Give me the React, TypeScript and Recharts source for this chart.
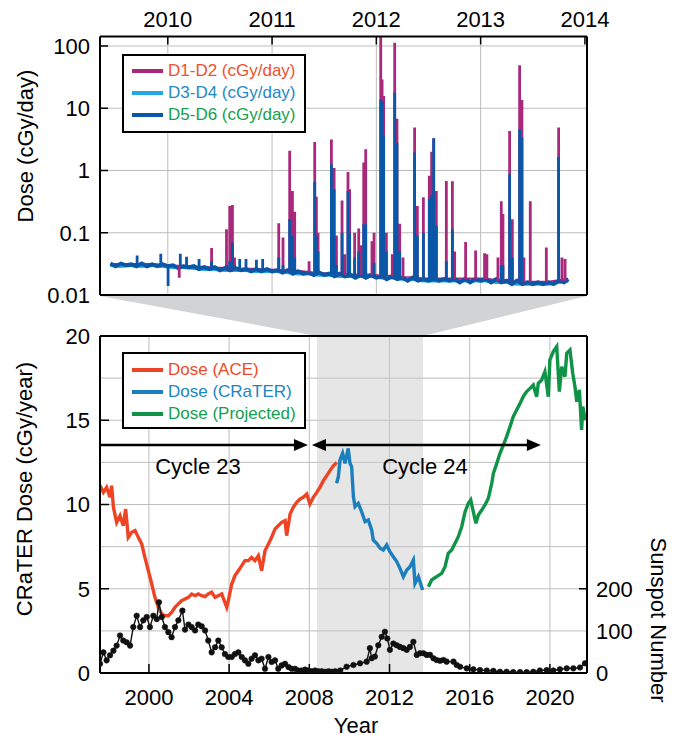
import React from 'react';
import {
  LineChart, Line, XAxis, YAxis, CartesianGrid, ReferenceArea, ReferenceLine, ReferenceDot, Legend,
} from 'recharts';

const FONT = '"Liberation Sans", Arial, Helvetica, sans-serif';

// ---------------- Top panel: CRaTER daily dose (log) ----------------
const topYearTicks = [2010, 2011, 2012, 2013, 2014];
const topGridYears = [2010, 2011, 2012, 2013];
const topDoseTicks = [0.01, 0.1, 1, 10, 100];
const topDoseGrid = [0.1, 1, 10, 100];
const topXDomain = [2009.35, 2014.02];
const topYDomain = [0.01, 142];

const baseYearsFine = [
  2009.45, 2009.5, 2009.55, 2009.6, 2009.65, 2009.7, 2009.75, 2009.8, 2009.85, 2009.9, 2009.95,
  2010, 2010.05, 2010.1, 2010.15, 2010.2, 2010.25, 2010.3, 2010.35, 2010.4, 2010.45, 2010.5, 2010.55, 2010.6, 2010.65, 2010.7, 2010.75, 2010.8, 2010.85, 2010.9, 2010.95,
  2011, 2011.05, 2011.1, 2011.15, 2011.2, 2011.25, 2011.3, 2011.35, 2011.4, 2011.45, 2011.5, 2011.55, 2011.6, 2011.65, 2011.7, 2011.75, 2011.8, 2011.85, 2011.9, 2011.95,
  2012, 2012.05, 2012.1, 2012.15, 2012.2, 2012.25, 2012.3, 2012.35, 2012.4, 2012.45, 2012.5, 2012.55, 2012.6, 2012.65, 2012.7, 2012.75, 2012.8, 2012.85, 2012.9, 2012.95,
  2013, 2013.05, 2013.1, 2013.15, 2013.2, 2013.25, 2013.3, 2013.35, 2013.4, 2013.45, 2013.5, 2013.55, 2013.6, 2013.65, 2013.7, 2013.75, 2013.8, 2013.84,
];
const baseD56 = [
  0.032, 0.029, 0.032, 0.030, 0.031, 0.029, 0.032, 0.029, 0.031, 0.029, 0.031,
  0.029, 0.030, 0.027, 0.029, 0.028, 0.029, 0.026, 0.028, 0.026, 0.028, 0.025, 0.027, 0.025, 0.027, 0.025, 0.026, 0.024, 0.026, 0.024, 0.026,
  0.024, 0.025, 0.023, 0.025, 0.022, 0.024, 0.022, 0.023, 0.021, 0.023, 0.021, 0.022, 0.020, 0.022, 0.020, 0.021, 0.019, 0.021, 0.019, 0.021,
  0.019, 0.020, 0.018, 0.020, 0.018, 0.019, 0.017, 0.019, 0.017, 0.018, 0.017, 0.018, 0.017, 0.018, 0.017, 0.018, 0.016, 0.018, 0.016, 0.018,
  0.017, 0.018, 0.016, 0.018, 0.016, 0.017, 0.015, 0.017, 0.015, 0.016, 0.015, 0.016, 0.015, 0.016, 0.015, 0.017, 0.016, 0.018,
];
const baseYearsCoarse = [
  2009.45, 2009.55, 2009.65, 2009.75, 2009.85, 2009.95,
  2010.05, 2010.15, 2010.25, 2010.35, 2010.45, 2010.55, 2010.65, 2010.75, 2010.85, 2010.95,
  2011.05, 2011.15, 2011.25, 2011.35, 2011.45, 2011.55, 2011.65, 2011.75, 2011.85, 2011.95,
  2012.05, 2012.15, 2012.25, 2012.35, 2012.45, 2012.55, 2012.65, 2012.75, 2012.85, 2012.95,
  2013.05, 2013.15, 2013.25, 2013.35, 2013.45, 2013.55, 2013.65, 2013.75, 2013.84,
];
const baseD12 = [
  0.031, 0.031, 0.031, 0.031, 0.031, 0.030,
  0.029, 0.029, 0.028, 0.028, 0.027, 0.027, 0.026, 0.026, 0.026, 0.025,
  0.025, 0.024, 0.024, 0.023, 0.022, 0.022, 0.022, 0.021, 0.021, 0.021,
  0.020, 0.020, 0.019, 0.019, 0.018, 0.018, 0.018, 0.018, 0.018, 0.018,
  0.018, 0.017, 0.017, 0.016, 0.016, 0.016, 0.016, 0.017, 0.018,
];
const baseD34 = [
  0.030, 0.029, 0.030, 0.029, 0.030, 0.029,
  0.028, 0.028, 0.027, 0.026, 0.026, 0.025, 0.025, 0.025, 0.024, 0.024,
  0.024, 0.023, 0.022, 0.022, 0.021, 0.021, 0.020, 0.020, 0.020, 0.020,
  0.019, 0.019, 0.018, 0.018, 0.017, 0.017, 0.017, 0.017, 0.017, 0.017,
  0.017, 0.016, 0.016, 0.015, 0.015, 0.015, 0.015, 0.016, 0.017,
];

// solar particle events: time, band level, D1-D2 peak, D5-D6 peak
const spikeYears = [
  2009.706, 2009.933, 2010.003, 2010.11, 2010.12, 2010.18, 2010.3, 2010.42, 2010.563, 2010.594,
  2010.62, 2010.64, 2010.69, 2010.75, 2010.85, 2010.91, 2011.064, 2011.105, 2011.169, 2011.195,
  2011.217, 2011.355, 2011.409, 2011.425, 2011.441, 2011.569, 2011.595, 2011.617, 2011.671, 2011.696,
  2011.728, 2011.744, 2011.792, 2011.831, 2011.856, 2011.879, 2011.898, 2011.958, 2011.978, 2012.042,
  2012.055, 2012.07, 2012.096, 2012.153, 2012.176, 2012.198, 2012.224, 2012.256, 2012.367, 2012.393,
  2012.451, 2012.508, 2012.53, 2012.55, 2012.575, 2012.671, 2012.729, 2012.751, 2012.856, 2012.952,
  2013.038, 2013.06, 2013.166, 2013.198, 2013.214, 2013.278, 2013.304, 2013.374, 2013.396, 2013.415,
  2013.476, 2013.63, 2013.748, 2013.78, 2013.81,
];
const spikeBase = [
  0.031, 0.031, 0.030, 0.029, 0.029, 0.029, 0.028, 0.028, 0.027, 0.027,
  0.027, 0.027, 0.026, 0.026, 0.026, 0.025, 0.025, 0.024, 0.024, 0.024,
  0.024, 0.023, 0.022, 0.022, 0.022, 0.022, 0.022, 0.022, 0.021, 0.021,
  0.021, 0.021, 0.021, 0.021, 0.021, 0.021, 0.021, 0.021, 0.021, 0.020,
  0.020, 0.020, 0.020, 0.020, 0.020, 0.019, 0.019, 0.019, 0.019, 0.018,
  0.018, 0.018, 0.018, 0.018, 0.018, 0.018, 0.018, 0.018, 0.018, 0.018,
  0.018, 0.018, 0.017, 0.017, 0.017, 0.017, 0.017, 0.016, 0.016, 0.016,
  0.016, 0.016, 0.017, 0.017, 0.017,
];
const spikeD12 = [
  0.031, 0.031, 0.030, 0.019, 0.029, 0.029, 0.028, 0.057, 0.114, 0.27,
  0.28, 0.04, 0.026, 0.026, 0.026, 0.025, 0.142, 0.084, 2.07, 0.47,
  0.217, 0.035, 2.88, 0.38, 0.10, 3.16, 1.10, 0.09, 0.33, 0.045,
  0.95, 0.50, 0.10, 0.117, 0.063, 1.34, 2.2, 0.073, 0.10, 200,
  29, 15.7, 0.10, 0.045, 113, 6.8, 0.14, 0.04, 4.9, 0.27,
  0.37, 0.82, 2.0, 3.3, 0.47, 0.68, 0.67, 0.05, 0.071, 0.052,
  0.047, 0.045, 0.040, 0.32, 0.20, 4.3, 0.165, 49, 13.5, 0.04,
  0.32, 0.058, 4.9, 0.04, 0.038,
];
const spikeD56 = [
  0.043, 0.046, 0.014, 0.029, 0.046, 0.041, 0.038, 0.035, 0.030, 0.035,
  0.07, 0.030, 0.038, 0.038, 0.037, 0.038, 0.040, 0.030, 0.166, 0.089,
  0.040, 0.023, 0.656, 0.09, 0.05, 1.26, 0.5, 0.03, 0.10, 0.021,
  0.47, 0.10, 0.04, 0.05, 0.021, 0.137, 0.137, 0.021, 0.033, 14,
  13, 3.6, 0.05, 0.020, 17.8, 2.8, 0.05, 0.019, 1.94, 0.09,
  0.10, 0.35, 0.4, 3.3, 0.13, 0.035, 0.114, 0.018, 0.018, 0.018,
  0.018, 0.018, 0.017, 0.03, 0.03, 0.87, 0.04, 4.6, 3.4, 0.016,
  0.016, 0.016, 1.67, 0.017, 0.017,
];

// ---------------- Bottom panel: dose history + sunspots ----------------
const botYearTicks = [2000, 2004, 2008, 2012, 2016, 2020];
const botDoseTicks = [0, 5, 10, 15, 20];
const botDoseGrid = [2.5, 5, 7.5, 10, 12.5, 15, 17.5];
const sunspotTicks = [0, 100, 200];
const botXDomain = [1997.56, 2021.85];
const botYDomain = [0, 20];
const sunspotDomain = [0, 800];
const zoomSpan = [2008.38, 2013.67];
const cycleArrowLevel = 13.53;
const cycle23Span = [1997.56, 2007.93];
const cycle24Span = [2008.13, 2019.55];
const cycleLabels = ['Cycle 23', 'Cycle 24'];
const cycleLabelX = [2002.45, 2013.77];
const cycleLabelY = 12.3;

const aceYears = [
  1997.56, 1997.73, 1997.89, 1998.06, 1998.14, 1998.23, 1998.39, 1998.56, 1998.72, 1998.84, 1998.97,
  1999.14, 1999.31, 1999.47, 1999.64, 1999.8, 1999.97, 2000.14, 2000.3, 2000.47, 2000.64, 2000.8, 2000.97,
  2001.13, 2001.3, 2001.47, 2001.63, 2001.8, 2001.97, 2002.13, 2002.3, 2002.46, 2002.63, 2002.8, 2002.96,
  2003.13, 2003.3, 2003.46, 2003.63, 2003.79, 2003.88, 2003.96, 2004.13, 2004.29, 2004.46, 2004.63, 2004.79, 2004.96,
  2005.12, 2005.29, 2005.46, 2005.62, 2005.79, 2005.96, 2006.12, 2006.29, 2006.45, 2006.62, 2006.79, 2006.87,
  2007.04, 2007.2, 2007.37, 2007.54, 2007.7, 2007.87, 2008.03, 2008.2, 2008.37, 2008.53, 2008.7, 2008.87,
  2009.03, 2009.2, 2009.37,
];
const aceDose = [
  11.12, 10.72, 11.02, 10.43, 11.12, 9.83, 8.94, 9.34, 8.74, 9.73, 8.05,
  8.35, 8.45, 8.05, 7.66, 6.86, 6.07, 5.28, 4.49, 3.9, 3.5, 3.4, 3.4,
  3.6, 3.9, 4.1, 4.29, 4.39, 4.49, 4.69, 4.59, 4.69, 4.59, 4.53, 4.69,
  4.79, 4.49, 4.59, 4.69, 4.19, 3.9, 4.29, 5.28, 5.78, 6.07, 6.37, 6.67, 6.67,
  6.86, 6.67, 6.96, 6.07, 7.26, 7.66, 8.05, 8.55, 8.74, 8.94, 9.04, 8.15,
  9.44, 9.83, 10.13, 10.33, 10.43, 10.62, 10.03, 10.43, 10.72, 11.02, 11.41, 11.71,
  12.01, 12.3, 12.5,
];
const craterYears = [
  2009.36, 2009.45, 2009.53, 2009.66, 2009.78, 2009.94, 2010.03, 2010.11, 2010.2, 2010.28, 2010.44,
  2010.61, 2010.78, 2010.94, 2011.11, 2011.19, 2011.36, 2011.53, 2011.69, 2011.86, 2012.02, 2012.19,
  2012.36, 2012.52, 2012.69, 2012.86, 2013.02, 2013.19, 2013.27, 2013.44, 2013.65,
];
const craterDose = [
  11.26, 11.65, 12.64, 13.04, 12.44, 13.33, 12.44, 12.25, 10.46, 9.87, 10.07,
  9.57, 8.98, 9.08, 8.49, 7.89, 7.7, 7.4, 7.3, 7.6, 7.2, 6.9,
  6.61, 6.21, 5.72, 6.11, 6.31, 6.71, 5.32, 5.72, 4.93,
];
const projYears = [
  2013.94, 2014.1, 2014.35, 2014.6, 2014.77, 2014.93, 2015.1, 2015.27, 2015.43, 2015.6, 2015.77, 2015.93,
  2016.05, 2016.18, 2016.31, 2016.43, 2016.6, 2016.76, 2016.93, 2017.1, 2017.18, 2017.35, 2017.51, 2017.68, 2017.84,
  2018.01, 2018.17, 2018.34, 2018.51, 2018.67, 2018.84, 2019.01, 2019.17, 2019.34, 2019.42, 2019.59, 2019.75, 2019.92,
  2020.0, 2020.17, 2020.34, 2020.47, 2020.59, 2020.75, 2020.84, 2021.0, 2021.14, 2021.25, 2021.34, 2021.47, 2021.58, 2021.64, 2021.76,
];
const projDose = [
  5.12, 5.52, 5.72, 5.91, 6.31, 7.1, 7.3, 7.7, 8.09, 8.68, 9.57, 10.07,
  10.27, 9.57, 8.88, 9.38, 9.67, 9.97, 10.37, 11.26, 11.85, 12.44, 13.04, 13.53, 14.03,
  14.62, 15.21, 15.61, 16.0, 16.4, 16.7, 16.89, 17.09, 16.4, 17.19, 17.39, 17.88, 16.4,
  18.58, 19.07, 19.37, 16.7, 18.18, 17.59, 18.97, 19.17, 17.78, 16.99, 16.1, 16.8, 14.42, 15.81, 15.01,
];
const sunYears = [
  1997.56, 1997.73, 1997.89, 1998.06, 1998.23, 1998.39, 1998.56, 1998.72, 1998.89, 1999.06, 1999.22, 1999.39,
  1999.56, 1999.72, 1999.89, 2000.05, 2000.22, 2000.39, 2000.5, 2000.64, 2000.8, 2000.97, 2001.13, 2001.3,
  2001.47, 2001.67, 2001.8, 2001.97, 2002.13, 2002.3, 2002.46, 2002.63, 2002.8, 2002.96, 2003.13, 2003.3,
  2003.46, 2003.63, 2003.79, 2003.96, 2004.13, 2004.29, 2004.46, 2004.63, 2004.79, 2004.96, 2005.12, 2005.29,
  2005.46, 2005.62, 2005.79, 2005.96, 2006.12, 2006.29, 2006.45, 2006.62, 2006.79, 2006.96, 2007.12, 2007.29,
  2007.45, 2007.62, 2007.79, 2007.96, 2008.12, 2008.29, 2008.46, 2008.62, 2008.79, 2008.96, 2009.12, 2009.29,
  2009.54, 2009.86, 2010.2, 2010.53, 2010.86, 2011.02, 2011.11, 2011.27, 2011.44, 2011.61, 2011.77, 2011.89,
  2012.02, 2012.19, 2012.36, 2012.52, 2012.69, 2012.86, 2013.02, 2013.19, 2013.36, 2013.52, 2013.69, 2013.85,
  2014.02, 2014.19, 2014.35, 2014.52, 2014.69, 2014.85, 2015.19, 2015.35, 2015.52, 2015.85, 2016.18, 2016.51,
  2016.85, 2017.18, 2017.51, 2017.84, 2018.17, 2018.51, 2018.84, 2019.17, 2019.5, 2019.84, 2020.17, 2020.5,
  2020.84, 2021.17, 2021.5, 2021.75,
];
const sunValues = [
  22, 49, 30, 42, 53, 65, 89, 77, 73, 65, 109, 136,
  109, 125, 133, 109, 136, 128, 168, 133, 109, 97, 85, 109,
  125, 148, 103, 115, 109, 101, 115, 111, 101, 77, 49, 61,
  77, 61, 45, 38, 38, 45, 49, 38, 30, 22, 34, 42,
  30, 34, 10, 38, 26, 30, 10, 18, 22, 14, 10, 10,
  6, 6, 8, 6, 4, 6, 4, 4, 3, 4, 3, 4,
  6, 15, 19, 23, 27, 59, 35, 39, 66, 86, 98, 82,
  55, 70, 66, 62, 59, 55, 62, 74, 43, 47, 47, 43,
  43, 35, 31, 29, 31, 27, 27, 19, 15, 11, 9, 7,
  6, 5, 3, 3, 2, 2, 2, 3, 6, 7, 6, 9,
  11, 11, 13, 23,
];

const topLegendLabels = ['D1-D2 (cGy/day)', 'D3-D4 (cGy/day)', 'D5-D6 (cGy/day)'];
const botLegendLabels = ['Dose (ACE)', 'Dose (CRaTER)', 'Dose (Projected)'];

// ---------------- styling / layout ----------------
const C = {
  magenta: '#a8287c', lightBlue: '#23a9e1', darkBlue: '#0a56a7',
  ace: '#ef4424', crater: '#1b7fbd', proj: '#0f9447',
  grid: '#bdbdbd', shade: '#c8c8c8', wedge: '#d1d3d4',
};
const topLegendLine = [C.magenta, C.lightBlue, C.darkBlue];
const topLegendText = ['#f0502a', '#2489c4', '#16a04d'];
const botLegendLine = [C.ace, C.crater, C.proj];
const botLegendText = ['#f04a26', '#1a86c3', '#13a04f'];

const W = 683;
const PLOT_L = 100;
const PLOT_R = 587;
const TOP_H = 310;
const TOP_AX_T = 36.5;
const TOP_AX_B = 15;
const BOT_Y = 300;
const BOT_H = 440;
const BOT_AX_T = 36;
const BOT_AX_B = 67;

const axisLine = { stroke: '#000', strokeWidth: 2 };
const tickLine = { stroke: '#000', strokeWidth: 1.5 };
const tickFont = { fontSize: 22, fill: '#000', fontFamily: FONT };

const zip = (xs: number[], ys: number[]) => xs.map((t, i) => ({ t, v: ys[i] }));
const spikeSegments = (peaks: number[]) =>
  spikeYears.flatMap((t, i) => [{ t, v: spikeBase[i] }, { t, v: peaks[i] }, { t, v: null }]);

const d12Base = zip(baseYearsCoarse, baseD12);
const d34Base = zip(baseYearsCoarse, baseD34);
const d56Base = zip(baseYearsFine, baseD56);
const d12Spikes = spikeSegments(spikeD12);
const d56Spikes = spikeSegments(spikeD56);
const aceData = zip(aceYears, aceDose);
const craterData = zip(craterYears, craterDose);
const projData = zip(projYears, projDose);
const sunData = zip(sunYears, sunValues);

function LegendBox({ labels, lines, texts, height, padTop }: any) {
  return (
    <div style={{
      width: 184, height, boxSizing: 'border-box', border: '2px solid #000', background: '#fff',
      padding: `${padTop}px 0 0 8px`, fontFamily: FONT, fontSize: 17,
    }}>
      {labels.map((l: string, i: number) => (
        <div key={l} style={{ display: 'flex', alignItems: 'center', height: 22 }}>
          <span style={{ display: 'inline-block', width: 31, height: 3.5, background: lines[i], marginRight: 5 }} />
          <span style={{ color: texts[i], lineHeight: '22px', whiteSpace: 'nowrap' }}>{l}</span>
        </div>
      ))}
    </div>
  );
}

const makeArrow = (both: boolean) => (p: any) => {
  const { x1, y1, x2, y2 } = p;
  const L = 14;
  const H = 6;
  const s = both ? x1 + L - 1 : x1;
  return (
    <g>
      <line x1={s} y1={y1} x2={x2 - L + 1} y2={y2} stroke="#000" strokeWidth={2.6} />
      <polygon points={`${x2},${y2} ${x2 - L},${y2 - H} ${x2 - L},${y2 + H}`} fill="#000" />
      {both && <polygon points={`${x1},${y1} ${x1 + L},${y1 - H} ${x1 + L},${y1 + H}`} fill="#000" />}
    </g>
  );
};

const SunspotTick = (p: any) => {
  const { x, y, payload } = p;
  return (
    <g>
      {payload.value === 200 && (
        <line x1={x - 17} y1={y} x2={x - 9} y2={y} stroke="#000" strokeWidth={1.5} />
      )}
      <text x={x} y={y} dy="0.36em" textAnchor="start" fontSize={22} fontFamily={FONT} fill="#000">
        {payload.value}
      </text>
    </g>
  );
};

const rotTitle = (text: string, x: number, y: number, angle: number) => () => (
  <text x={x} y={y} transform={`rotate(${angle}, ${x}, ${y})`} textAnchor="middle"
    dominantBaseline="central" fontSize={22} fontFamily={FONT} fill="#000">{text}</text>
);

function TopChart() {
  return (
    <LineChart width={W} height={TOP_H} margin={{ top: 0, right: 0, bottom: 0, left: 0 }}>
      <CartesianGrid xAxisId="tx" yAxisId="ty" stroke={C.grid} strokeWidth={1}
        verticalValues={topGridYears} horizontalValues={topDoseGrid} />
      <XAxis xAxisId="tx" orientation="top" type="number" dataKey="t" domain={topXDomain} allowDataOverflow
        ticks={topYearTicks} interval={0} height={TOP_AX_T} tickSize={-8} tickMargin={17.5}
        axisLine={axisLine} tickLine={tickLine} tick={tickFont} />
      <XAxis xAxisId="tx2" orientation="bottom" type="number" dataKey="t" domain={topXDomain} allowDataOverflow
        ticks={topGridYears} interval={0} height={TOP_AX_B} tickSize={-8}
        axisLine={axisLine} tickLine={tickLine} tick={false} />
      <YAxis yAxisId="ty" orientation="left" type="number" scale="log" domain={topYDomain} allowDataOverflow
        ticks={topDoseTicks} interval={0} width={PLOT_L} tickSize={-8} tickMargin={18}
        axisLine={axisLine} tickLine={tickLine} tick={tickFont} tickFormatter={(v: number) => String(v)}
        label={rotTitle('Dose (cGy/day)', 25, 146, -90)} />
      <YAxis yAxisId="ty2" orientation="right" type="number" scale="log" domain={topYDomain} allowDataOverflow
        ticks={topDoseTicks} interval={0} width={W - PLOT_R} tickSize={-8}
        axisLine={axisLine} tickLine={tickLine} tick={false} />
      <Line xAxisId="tx" yAxisId="ty" data={d12Base} dataKey="v" stroke={C.magenta} strokeWidth={3}
        dot={false} isAnimationActive={false} />
      <Line xAxisId="tx" yAxisId="ty" data={d34Base} dataKey="v" stroke={C.lightBlue} strokeWidth={3.5}
        dot={false} isAnimationActive={false} />
      <Line xAxisId="tx" yAxisId="ty" data={d56Base} dataKey="v" stroke={C.darkBlue} strokeWidth={4}
        dot={false} isAnimationActive={false} />
      <Line xAxisId="tx" yAxisId="ty" data={d12Spikes} dataKey="v" stroke={C.magenta} strokeWidth={2.8}
        dot={false} isAnimationActive={false} connectNulls={false} />
      <Line xAxisId="tx" yAxisId="ty" data={d56Spikes} dataKey="v" stroke={C.darkBlue} strokeWidth={2.8}
        dot={false} isAnimationActive={false} connectNulls={false} />
      <Legend layout="vertical" align="center" verticalAlign="middle"
        wrapperStyle={{ left: 122, top: 54, width: 184, height: 79 }}
        content={() => <LegendBox labels={topLegendLabels} lines={topLegendLine} texts={topLegendText} height={79} padTop={4} />} />
    </LineChart>
  );
}

function BottomChart() {
  return (
    <LineChart width={W} height={BOT_H} margin={{ top: 0, right: 0, bottom: 0, left: 0 }}>
      <CartesianGrid xAxisId="bx" yAxisId="by" stroke={C.grid} strokeWidth={1}
        verticalValues={botYearTicks} horizontalValues={botDoseGrid} />
      <ReferenceArea xAxisId="bx" yAxisId="by" x1={zoomSpan[0]} x2={zoomSpan[1]}
        fill={C.shade} fillOpacity={0.45} stroke="none" />
      <XAxis xAxisId="bx2" orientation="top" type="number" dataKey="t" domain={botXDomain} allowDataOverflow
        ticks={botYearTicks} interval={0} height={BOT_AX_T} tickSize={-9}
        axisLine={axisLine} tickLine={tickLine} tick={false} />
      <XAxis xAxisId="bx" orientation="bottom" type="number" dataKey="t" domain={botXDomain} allowDataOverflow
        ticks={botYearTicks} interval={0} height={BOT_AX_B} tickSize={-9} tickMargin={25}
        axisLine={axisLine} tickLine={tickLine} tick={tickFont}
        label={() => (
          <text x={356} y={433} textAnchor="middle" fontSize={22} fontFamily={FONT} fill="#000">Year</text>
        )} />
      <YAxis yAxisId="by" orientation="left" type="number" domain={botYDomain} allowDataOverflow
        ticks={botDoseTicks} interval={0} width={PLOT_L} tickSize={-9} tickMargin={19}
        axisLine={axisLine} tickLine={tickLine} tick={tickFont}
        label={rotTitle('CRaTER Dose (cGy/year)', 24, 189, -90)} />
      <YAxis yAxisId="bs" orientation="right" type="number" domain={sunspotDomain} allowDataOverflow
        ticks={sunspotTicks} interval={0} width={W - PLOT_R} tickSize={0} tickMargin={9}
        axisLine={axisLine} tickLine={false} tick={<SunspotTick />}
        label={rotTitle('Sunspot Number', 658, 320, 90)} />
      <Line xAxisId="bx" yAxisId="by" data={aceData} dataKey="v" stroke={C.ace} strokeWidth={3.4}
        dot={false} isAnimationActive={false} />
      <Line xAxisId="bx" yAxisId="by" data={craterData} dataKey="v" stroke={C.crater} strokeWidth={3.4}
        dot={false} isAnimationActive={false} />
      <Line xAxisId="bx" yAxisId="by" data={projData} dataKey="v" stroke={C.proj} strokeWidth={3.4}
        dot={false} isAnimationActive={false} />
      <Line xAxisId="bx" yAxisId="bs" data={sunData} dataKey="v" stroke="#111" strokeWidth={1.4}
        dot={{ r: 2.8, fill: '#111', stroke: '#111', strokeWidth: 0.5 }} isAnimationActive={false} />
      <ReferenceLine xAxisId="bx" yAxisId="by"
        segment={[{ x: cycle23Span[0], y: cycleArrowLevel }, { x: cycle23Span[1], y: cycleArrowLevel }]}
        shape={makeArrow(false)} ifOverflow="visible" />
      <ReferenceLine xAxisId="bx" yAxisId="by"
        segment={[{ x: cycle24Span[0], y: cycleArrowLevel }, { x: cycle24Span[1], y: cycleArrowLevel }]}
        shape={makeArrow(true)} ifOverflow="visible" />
      {cycleLabels.map((txt, i) => (
        <ReferenceDot key={txt} xAxisId="bx" yAxisId="by" x={cycleLabelX[i]} y={cycleLabelY} r={1}
          fill="none" stroke="none"
          label={{ value: txt, position: 'center', fontSize: 22, fill: '#000', fontFamily: FONT }} />
      ))}
      <Legend layout="vertical" align="center" verticalAlign="middle"
        wrapperStyle={{ left: 122, top: 52, width: 184, height: 77 }}
        content={() => <LegendBox labels={botLegendLabels} lines={botLegendLine} texts={botLegendText} height={77} padTop={5} />} />
    </LineChart>
  );
}

export default function App() {
  const xb = (year: number) =>
    PLOT_L + ((year - botXDomain[0]) / (botXDomain[1] - botXDomain[0])) * (PLOT_R - PLOT_L);
  const wedgeTop = TOP_H - TOP_AX_B + 1;
  const wedgeBottom = BOT_Y + BOT_AX_T;
  const wedge = `${PLOT_L},${wedgeTop} ${PLOT_R},${wedgeTop} ${xb(zoomSpan[1])},${wedgeBottom} ${xb(zoomSpan[0])},${wedgeBottom}`;
  return (
    <div style={{ position: 'absolute', left: 0, top: 0, width: W, height: 740, background: '#fff', fontFamily: FONT }}>
      <svg width={W} height={740} style={{ position: 'absolute', left: 0, top: 0 }}>
        <polygon points={wedge} fill={C.wedge} />
      </svg>
      <div style={{ position: 'absolute', left: 0, top: 0 }}>
        <TopChart />
      </div>
      <div style={{ position: 'absolute', left: 0, top: BOT_Y }}>
        <BottomChart />
      </div>
    </div>
  );
}
